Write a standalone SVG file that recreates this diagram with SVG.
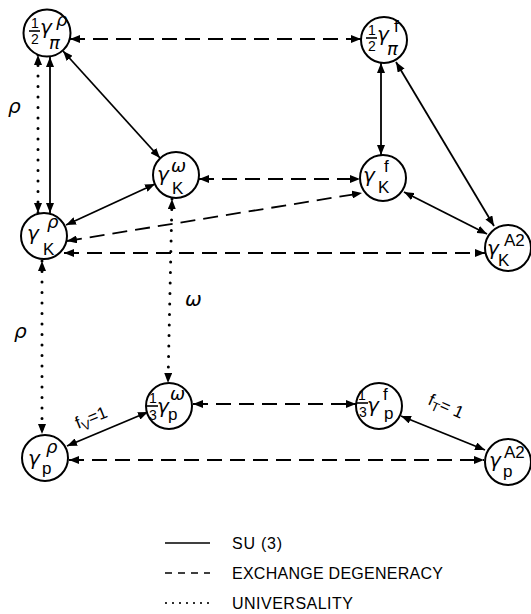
<svg xmlns="http://www.w3.org/2000/svg" width="531" height="614" viewBox="0 0 531 614">
<style>
.n{fill:#fff;stroke:#000;stroke-width:2}
text{fill:#000}
.g{font-family:"DejaVu Sans",sans-serif;font-style:italic;font-size:20px}
.gs{font-family:"DejaVu Sans",sans-serif;font-style:italic;font-size:18px}
.l{font-family:"Liberation Sans",Arial,sans-serif;font-size:17px}
.fr{font-family:"Liberation Sans",Arial,sans-serif;font-size:14px}
.bar{stroke:#000;stroke-width:1.6}
.su{stroke:#000;stroke-width:1.8;fill:none}
.ed{stroke:#000;stroke-width:1.8;fill:none;stroke-dasharray:15 8}
.un{stroke:#000;stroke-width:3;stroke-linecap:round;fill:none;stroke-dasharray:0 10.5}
.lg{font-family:"Liberation Sans",Arial,sans-serif;font-size:16px}
.lab{font-family:"DejaVu Sans",sans-serif;font-style:italic;font-size:20px}
</style>
<defs>
<marker id="a" viewBox="0 0 10 8" refX="10" refY="4" markerWidth="10" markerHeight="8" markerUnits="userSpaceOnUse" orient="auto-start-reverse"><path d="M0,0L10,4L0,8Z"/></marker>
</defs>

<g id="connectors" marker-start="url(#a)" marker-end="url(#a)">
<!-- SU(3) -->
<line class="su" x1="50" y1="57" x2="50" y2="213"/>
<line class="su" x1="63" y1="51" x2="160" y2="158"/>
<line class="su" x1="155" y1="184" x2="66" y2="225"/>
<line class="su" x1="381" y1="63" x2="381" y2="155"/>
<line class="su" x1="396" y1="62" x2="494" y2="226"/>
<line class="su" x1="404" y1="192" x2="487" y2="234"/>
<line class="su" x1="67" y1="446" x2="148" y2="412"/>
<line class="su" x1="401" y1="416" x2="485" y2="450"/>
<!-- exchange degeneracy -->
<line class="ed" x1="70" y1="39" x2="361" y2="39"/>
<line class="ed" x1="199" y1="179" x2="360" y2="179"/>
<line class="ed" x1="67" y1="241" x2="362" y2="193"/>
<line class="ed" x1="64" y1="253" x2="485" y2="253"/>
<line class="ed" x1="193" y1="404" x2="356" y2="404"/>
<line class="ed" x1="69" y1="460" x2="484" y2="460"/>
<!-- universality -->
<line class="un" x1="38" y1="55" x2="38" y2="213"/>
<line class="un" x1="42" y1="261" x2="42" y2="434"/>
<line class="un" x1="172" y1="199" x2="168" y2="383"/>
</g>

<g id="labels">
<text class="lab" x="8" y="113">ρ</text>
<text class="lab" x="14" y="338">ρ</text>
<text class="lab" x="185" y="306">ω</text>
<text class="l" font-size="19" transform="translate(78,429) rotate(-22)">f<tspan font-size="13" dy="4">V</tspan><tspan dy="-4">=1</tspan></text>
<text class="l" font-size="18" transform="translate(427,404) rotate(24)">f<tspan font-size="13" dy="4">T</tspan><tspan dy="-4">= 1</tspan></text>
</g>

<g id="half_gamma_rho_pi">
<circle class="n" cx="47" cy="33" r="23.5"/>
<line class="bar" x1="29" y1="31" x2="40" y2="31"/>
<text><tspan class="fr" x="35" y="28" text-anchor="middle">1</tspan><tspan class="fr" x="35" y="44" text-anchor="middle">2</tspan><tspan class="g" x="40" y="34">γ</tspan><tspan class="gs" x="56" y="26">ρ</tspan><tspan class="gs" x="49" y="49">π</tspan></text>
</g>

<g id="half_gamma_f_pi">
<circle class="n" cx="384" cy="40" r="23"/>
<line class="bar" x1="366" y1="38" x2="377" y2="38"/>
<text><tspan class="fr" x="372" y="35" text-anchor="middle">1</tspan><tspan class="fr" x="372" y="51" text-anchor="middle">2</tspan><tspan class="g" x="377" y="41">γ</tspan><tspan class="l" x="394" y="32" font-size="17">f</tspan><tspan class="gs" x="387" y="55">π</tspan></text>
</g>

<g id="gamma_omega_K">
<circle class="n" cx="176" cy="175" r="23"/>
<text><tspan class="g" x="157" y="181">γ</tspan><tspan class="gs" x="171" y="172">ω</tspan><tspan class="l" x="172" y="194">K</tspan></text>
</g>

<g id="gamma_f_K">
<circle class="n" cx="383" cy="178" r="23"/>
<text><tspan class="g" x="363" y="182">γ</tspan><tspan class="l" x="384" y="172" font-size="18">f</tspan><tspan class="l" x="378" y="193" font-size="18">K</tspan></text>
</g>

<g id="gamma_rho_K">
<circle class="n" cx="44" cy="236" r="23"/>
<text><tspan class="g" x="27" y="240">γ</tspan><tspan class="gs" x="47" y="228">ρ</tspan><tspan class="l" x="43" y="255" font-size="18">K</tspan></text>
</g>

<g id="gamma_A2_K">
<circle class="n" cx="508" cy="248" r="23"/>
<text><tspan class="g" x="487" y="255">γ</tspan><tspan class="l" x="504" y="246" font-size="18">A2</tspan><tspan class="l" x="498" y="266">K</tspan></text>
</g>

<g id="third_gamma_omega_p">
<circle class="n" cx="169" cy="406" r="23"/>
<line class="bar" x1="147" y1="406" x2="158" y2="406"/>
<text><tspan class="fr" x="153" y="403" text-anchor="middle">1</tspan><tspan class="fr" x="153" y="420" text-anchor="middle">3</tspan><tspan class="g" x="157" y="413">γ</tspan><tspan class="gs" x="170" y="400">ω</tspan><tspan class="l" x="168" y="420">p</tspan></text>
</g>

<g id="third_gamma_f_p">
<circle class="n" cx="379" cy="406" r="23"/>
<line class="bar" x1="357" y1="403" x2="368" y2="403"/>
<text><tspan class="fr" x="362" y="400" text-anchor="middle">1</tspan><tspan class="fr" x="363" y="417" text-anchor="middle">3</tspan><tspan class="g" x="367" y="412">γ</tspan><tspan class="l" x="383" y="400" font-size="17">f</tspan><tspan class="l" x="384" y="419" font-size="18">p</tspan></text>
</g>

<g id="gamma_rho_p">
<circle class="n" cx="45" cy="458" r="23"/>
<text><tspan class="g" x="28" y="465">γ</tspan><tspan class="gs" x="46" y="453">ρ</tspan><tspan class="l" x="42" y="474" font-size="18">p</tspan></text>
</g>

<g id="gamma_A2_p">
<circle class="n" cx="508" cy="462" r="23"/>
<text><tspan class="g" x="489" y="467">γ</tspan><tspan class="l" x="504" y="458" font-size="18">A2</tspan><tspan class="l" x="503" y="477" font-size="18">p</tspan></text>
</g>

<g id="legend">
<line stroke="#000" stroke-width="1.5" x1="165" y1="543" x2="210" y2="543"/>
<text class="lg" x="232" y="549" textLength="50">SU (3)</text>
<line stroke="#000" stroke-width="1.5" stroke-dasharray="7 6" x1="165" y1="573" x2="210" y2="573"/>
<text class="lg" x="232" y="579" textLength="211">EXCHANGE DEGENERACY</text>
<line stroke="#000" stroke-width="2.2" stroke-linecap="round" stroke-dasharray="0 7" x1="166" y1="603" x2="210" y2="603"/>
<text class="lg" x="232" y="609" textLength="121">UNIVERSALITY</text>
</g>
</svg>
